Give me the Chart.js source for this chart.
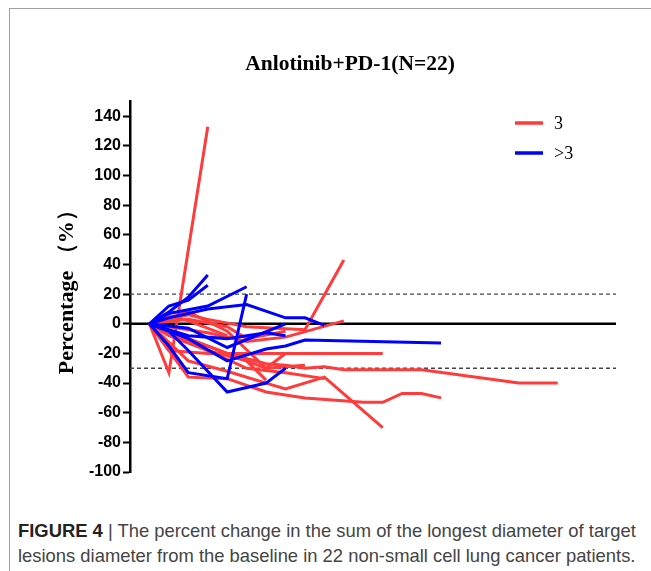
<!DOCTYPE html>
<html>
<head>
<meta charset="utf-8">
<script src="https://cdn.jsdelivr.net/npm/chart.js@4.4.1/dist/chart.umd.min.js"></script>
<style>
  html, body { margin: 0; padding: 0; background: #fff; }
  #frame { position: absolute; left: 9px; top: 8px; width: 700px; height: 600px; border-top: 1px solid #a0a0a0; border-left: 1px solid #a0a0a0; }
  #wrap { position: absolute; left: 0; top: 0; width: 651px; height: 500px; }
  #caption { position: absolute; left: 18px; top: 518px; white-space: nowrap; font-family: "Liberation Sans", Arial, sans-serif; font-size: 18.4px; line-height: 25px; color: #444; }
  #caption b { color: #222; }
</style>
</head>
<body>
<div id="frame"></div>
<div id="wrap"><canvas id="spider" width="651" height="500"></canvas></div>
<div id="caption"><b>FIGURE 4</b> | The percent change in the sum of the longest diameter of target<br>lesions diameter from the baseline in 22 non-small cell lung cancer patients.</div>
<script>
// visit index (x) and % change from baseline (y), one pair per patient
const redVisits = [
    [0, 1, 3],
    [0, 2, 4, 6, 8, 11, 12, 13, 14, 15],
    [0, 2, 4, 6, 7, 9, 12],
    [0, 2, 4, 6, 7, 8, 9, 10, 14, 19, 21],
    [0, 1, 3, 6, 12],
    [0, 2, 3, 5, 8, 10],
    [0, 3, 5, 7, 10],
    [0, 2, 4, 6, 7],
    [0, 2, 5, 7, 9],
    [0, 1, 3, 5, 6, 8],
    [0, 2, 4, 5, 7],
    [0, 3, 5, 6],
    [0, 1, 2, 4]
];
const redChange = [
    [0, -33, 133],
    [0, -36, -37, -46, -50, -53, -53, -47, -47, -50],
    [0, -25, -32, -40, -44, -36, -70],
    [0, -10, -20, -27, -28, -30, -29, -31, -31, -40, -40],
    [0, -18, -20, -20, -20],
    [0, 6, 3, -2, -4, 43],
    [0, -6, -12, -9, 2],
    [0, 8, -5, -30, -20],
    [0, -12, -30, -33, -37],
    [0, -8, -18, -25, -30, -28],
    [0, 3, -2, -10, -5],
    [0, -15, -25, -38],
    [0, 5, 2, -8]
];
const blueVisits = [
    [0, 1, 2, 3],
    [0, 1, 2, 3],
    [0, 1, 3, 5],
    [0, 1, 2, 4, 5],
    [0, 1, 3, 5, 7, 8, 9],
    [0, 2, 4, 7],
    [0, 2, 4, 6, 7],
    [0, 1, 2, 4, 6, 7],
    [0, 2, 4, 6, 7, 8, 15]
];
const blueChange = [
    [0, 8, 18, 33],
    [0, 12, 16, 26],
    [0, 7, 12, 25],
    [0, -15, -33, -37, 20],
    [0, 4, 10, 13, 4, 4, -1],
    [0, -3, -16, 0],
    [0, -8, -10, -6, -8],
    [0, -5, -18, -46, -40, -30],
    [0, -10, -25, -17, -15, -11, -13]
];
const refLevels = [20, -30];
const yTicks = [140, 120, 100, 80, 60, 40, 20, 0, -20, -40, -60, -80, -100];
const legendLabels = ['3', '>3'];
const chartTitle = 'Anlotinib+PD-1(N=22)';

const RED = '#ff3b3b';
const BLUE = '#0000ff';

const toPoints = (xs, ys) => xs.map((x, i) => ({ x: x, y: ys[i] }));

const lineSet = (xs, ys, color) => ({
    data: toPoints(xs, ys),
    borderColor: color,
    borderWidth: 3,
    pointRadius: 0,
    tension: 0,
    fill: false
});

const datasets = [];
blueVisits.forEach((xs, i) => datasets.push(lineSet(xs, blueChange[i], BLUE)));
redVisits.forEach((xs, i) => datasets.push(lineSet(xs, redChange[i], RED)));
refLevels.forEach(v => datasets.push({
    data: [{ x: -1, y: v }, { x: 24, y: v }],
    borderColor: '#444',
    borderWidth: 1.3,
    borderDash: [4, 3],
    pointRadius: 0
}));
datasets.push({
    data: [{ x: -1, y: 0 }, { x: 24, y: 0 }],
    borderColor: '#000',
    borderWidth: 2.5,
    pointRadius: 0
});

// title and the two-group legend sit at fixed spots, as in the figure
const decorPlugin = {
    id: 'decor',
    afterDraw(chart) {
        const ctx = chart.ctx;
        const colors = [RED, BLUE];
        ctx.save();
        ctx.fillStyle = '#000';
        ctx.textAlign = 'center';
        ctx.textBaseline = 'middle';
        ctx.font = 'bold 21.5px "Liberation Serif", "Times New Roman", serif';
        ctx.fillText(chartTitle, 350, 64);
        ctx.textAlign = 'left';
        legendLabels.forEach((label, i) => {
            const y = 123 + i * 30;
            ctx.strokeStyle = colors[i];
            ctx.lineWidth = 3.5;
            ctx.beginPath();
            ctx.moveTo(515, y);
            ctx.lineTo(543, y);
            ctx.stroke();
            ctx.font = '18px "Liberation Serif", "Times New Roman", serif';
            ctx.fillText(label, 554, y + 1);
        });
        ctx.restore();
    }
};

new Chart(document.getElementById('spider').getContext('2d'), {
    type: 'line',
    data: { datasets: datasets },
    plugins: [decorPlugin],
    options: {
        responsive: false,
        animation: false,
        layout: { padding: { left: 0, right: 35, top: 101.5, bottom: 28 } },
        plugins: {
            legend: { display: false },
            tooltip: { enabled: false },
            title: { display: false }
        },
        scales: {
            x: { type: 'linear', min: -1, max: 24, display: false },
            y: {
                min: -100,
                max: 150,
                afterBuildTicks: s => { s.ticks = yTicks.map(v => ({ value: v })); },
                afterFit: s => { s.width = 130; },
                border: { display: true, color: '#000', width: 2.5 },
                grid: { drawOnChartArea: false, drawTicks: true, tickLength: 7, tickColor: '#000', tickWidth: 2 },
                ticks: {
                    color: '#000',
                    padding: 2,
                    font: { family: '"Liberation Sans", Arial, sans-serif', size: 16, weight: 'bold' }
                },
                title: {
                    display: true,
                    text: 'Percentage （%）',
                    color: '#000',
                    font: { family: '"Liberation Serif", "Times New Roman", serif', size: 22, weight: 'bold' },
                    padding: { top: 54, bottom: 0 }
                }
            }
        }
    }
});
</script>
</body>
</html>
